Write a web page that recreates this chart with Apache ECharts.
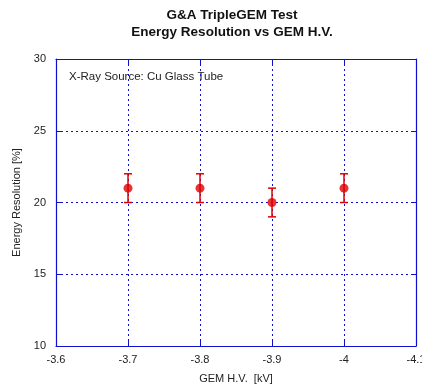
<!DOCTYPE html>
<html>
<head>
<meta charset="utf-8">
<script src="https://cdn.jsdelivr.net/npm/echarts@6/dist/echarts.min.js"></script>
<style>
  html, body { margin: 0; padding: 0; background: #fff; }
  #chart { width: 422px; height: 388px; }
</style>
</head>
<body>
<div id="chart"></div>
<script>
const voltages = [-3.7, -3.8, -3.9, -4.0];
const resolution = [21, 21, 20, 21];
const errors = [1, 1, 1, 1];

const blue = "#1010d0";
const red = "#e00000";
const font = "Liberation Sans, Arial, sans-serif";

const points = voltages.map((v, i) => [v, resolution[i]]);
const bars = voltages.map((v, i) => [v, resolution[i] - errors[i], resolution[i] + errors[i]]);

const fmt = (v) => String(parseFloat(v.toFixed(1)));

const chart = echarts.init(document.getElementById("chart"));
chart.setOption({
  animation: false,
  title: {
    text: "G&A TripleGEM Test\nEnergy Resolution vs GEM H.V.",
    left: 227,
    top: 2,
    textAlign: "center",
    textStyle: { fontFamily: font, fontSize: 13.5, fontWeight: "bold", color: "#111", lineHeight: 17 }
  },
  grid: { left: 56, right: 6, top: 59, bottom: 42, outerBoundsMode: "none" },
  xAxis: [
    {
      type: "value",
      min: -4.1,
      max: -3.6,
      interval: 0.1,
      inverse: true,
      name: "GEM H.V.  [kV]",
      nameLocation: "middle",
      nameGap: 27,
      nameTextStyle: { fontFamily: font, fontSize: 11, color: "#222" },
      axisLine: { lineStyle: { color: blue, width: 1.2 } },
      axisTick: { inside: true, length: 5, lineStyle: { color: blue } },
      axisLabel: { formatter: fmt, fontFamily: font, fontSize: 11, color: "#222", margin: 8 },
      splitLine: { show: true, lineStyle: { color: blue, type: [2, 3], width: 1 } }
    },
    {
      type: "value",
      position: "top",
      min: -4.1,
      max: -3.6,
      interval: 0.1,
      inverse: true,
      axisLine: { lineStyle: { color: blue, width: 1.2 } },
      axisTick: { inside: true, length: 5, lineStyle: { color: blue } },
      axisLabel: { show: false },
      splitLine: { show: false }
    }
  ],
  yAxis: [
    {
      type: "value",
      min: 10,
      max: 30,
      interval: 5,
      name: "Energy Resolution [%]",
      nameLocation: "middle",
      nameGap: 33,
      nameTextStyle: { fontFamily: font, fontSize: 11, color: "#222" },
      axisLine: { show: true, lineStyle: { color: blue, width: 1.2 } },
      axisTick: { show: true, inside: true, length: 5, lineStyle: { color: blue } },
      axisLabel: { fontFamily: font, fontSize: 11, color: "#222", margin: 10 },
      splitLine: { show: true, lineStyle: { color: blue, type: [2, 3], width: 1 } }
    },
    {
      type: "value",
      position: "right",
      min: 10,
      max: 30,
      interval: 5,
      axisLine: { show: true, lineStyle: { color: blue, width: 1.2 } },
      axisTick: { show: true, inside: true, length: 5, lineStyle: { color: blue } },
      axisLabel: { show: false },
      splitLine: { show: false }
    }
  ],
  graphic: [
    {
      type: "text",
      left: 69,
      top: 71,
      style: { text: "X-Ray Source: Cu Glass Tube", font: "11.5px " + font, fill: "#222" }
    }
  ],
  series: [
    {
      type: "custom",
      data: bars,
      encode: { x: 0, y: [1, 2] },
      renderItem: (params, api) => {
        const x = api.value(0);
        const lo = api.coord([x, api.value(1)]);
        const hi = api.coord([x, api.value(2)]);
        const w = 4;
        const style = { stroke: red, lineWidth: 1.5 };
        return {
          type: "group",
          children: [
            { type: "line", shape: { x1: lo[0], y1: lo[1], x2: hi[0], y2: hi[1] }, style },
            { type: "line", shape: { x1: lo[0] - w, y1: lo[1], x2: lo[0] + w, y2: lo[1] }, style },
            { type: "line", shape: { x1: hi[0] - w, y1: hi[1], x2: hi[0] + w, y2: hi[1] }, style }
          ]
        };
      },
      z: 3
    },
    {
      type: "scatter",
      data: points,
      symbol: "circle",
      symbolSize: 9,
      itemStyle: { color: red },
      z: 4
    }
  ]
});
</script>
</body>
</html>
